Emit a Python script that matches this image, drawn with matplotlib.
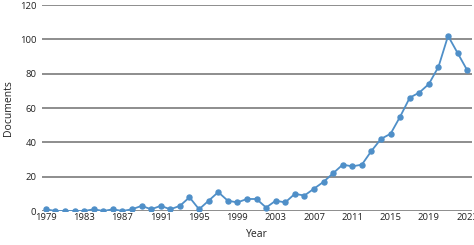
import matplotlib
matplotlib.use("Agg")
import matplotlib.pyplot as plt

years = list(range(1979, 2024))
documents = [1, 0, 0, 0, 0, 1, 0, 1, 0, 1, 3, 1, 3, 1, 3, 8, 1, 6, 11, 6,
             5, 7, 7, 2, 6, 5, 10, 9, 13, 17, 22, 27, 26, 27, 35, 42, 45, 55, 66, 69,
             74, 84, 102, 92, 82]
xtick_years = list(range(1979, 2024, 4))
yticks = [0, 20, 40, 60, 80, 100, 120]

plt.rcParams['font.family'] = ['Open Sans', 'DejaVu Sans']

fig = plt.figure(figsize=(4.74, 2.45), dpi=100)
ax = fig.add_axes([42/474, 1 - 211/245, (472-42)/474, (211-5)/245])

for y in yticks:
    ax.axhline(y, color='#7a7a7a', lw=1.2, zorder=1)

ax.plot(years, documents, color='#4f8fc8', lw=1.3, marker='o', ms=3.6, zorder=3)

ax.set_xlim(1978.6, 2023.5)
ax.set_ylim(0, 120)
ax.set_xticks(xtick_years)
ax.set_yticks(yticks)
ax.tick_params(length=0, labelsize=6.8, colors='#222222', pad=1.5)
ax.tick_params(axis='y', pad=4)
for s in ax.spines.values():
    s.set_visible(False)
ax.set_xlabel('Year', fontsize=7.5, color='#222222')
ax.xaxis.set_label_coords(0.5, -0.085)
ax.set_ylabel('Documents', fontsize=7.5, color='#222222')
ax.yaxis.set_label_coords(-0.066, 0.5)

fig.savefig('out.png', dpi=100)
